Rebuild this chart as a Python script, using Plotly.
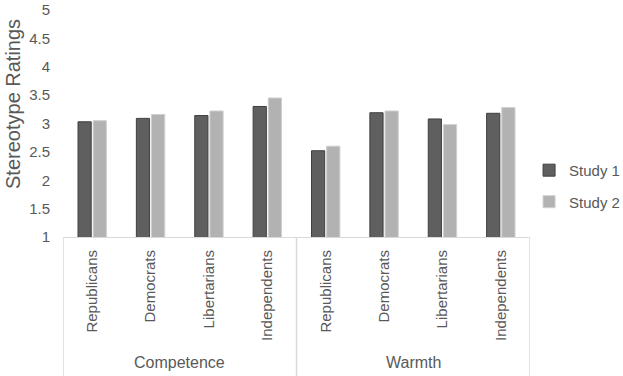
import plotly.graph_objects as go

categories = ["Republicans", "Democrats", "Libertarians", "Independents",
              "Republicans", "Democrats", "Libertarians", "Independents"]
groups = ["Competence", "Warmth"]
study1 = [3.03, 3.09, 3.14, 3.30, 2.52, 3.19, 3.08, 3.18]
study2 = [3.05, 3.16, 3.22, 3.45, 2.60, 3.22, 2.98, 3.28]
yticks = [1, 1.5, 2, 2.5, 3, 3.5, 4, 4.5, 5]
yticktext = ["1", "1.5", "2", "2.5", "3", "3.5", "4", "4.5", "5"]

FONT = "Liberation Sans"
TXT = "#595959"
xpos = list(range(len(categories)))

fig = go.Figure()
fig.add_trace(go.Bar(x=xpos, y=study1, base=0, name="Study 1", legendgroup="s1",
                     marker=dict(color="#5f5f5f", line=dict(color="#3f3f3f", width=1))))
fig.add_trace(go.Bar(x=xpos, y=study2, base=0, name="Study 2", legendgroup="s2",
                     marker=dict(color="#b2b2b2", line=dict(color="#cfcfcf", width=1))))

fig.update_layout(
    width=623, height=376,
    margin=dict(l=63, r=93, t=10, b=139, autoexpand=False),
    paper_bgcolor="white", plot_bgcolor="white",
    barmode="group", bargap=0.48, bargroupgap=0.13,
    font=dict(family=FONT, color=TXT, size=13),
    showlegend=True,
    legend=dict(x=0.998, y=0.225, yanchor="middle", xanchor="left",
                font=dict(size=15, color=TXT, family=FONT),
                tracegroupgap=9, itemwidth=30),
    xaxis=dict(range=[-0.5, 7.5], tickmode="array", tickvals=xpos, ticktext=categories,
               tickangle=-90, showgrid=False, showline=True, linecolor="#d9d9d9",
               linewidth=1, ticks="", tickfont=dict(size=15, color=TXT), zeroline=False,
               ticklabelstandoff=6, automargin=False),
    yaxis=dict(range=[1, 5], tickmode="array", tickvals=yticks, ticktext=yticktext,
               showgrid=False, showline=False, zeroline=False, ticks="",
               tickfont=dict(size=15, color=TXT), ticklabelstandoff=12,
               automargin=False),
)

fig.add_annotation(x=0.0, xshift=-50, y=0.586, xref="paper", yref="paper",
                   xanchor="center", yanchor="middle",
                   text="Stereotype Ratings", textangle=-90, showarrow=False,
                   font=dict(size=20, color=TXT, family=FONT))

# group dividers below axis
for xv in [-0.5, 3.5, 7.5]:
    fig.add_shape(type="line", xref="x", yref="paper", x0=xv, x1=xv, y0=0, y1=-0.62,
                  line=dict(color="#d9d9d9", width=1.5))
for i, g in enumerate(groups):
    fig.add_annotation(x=1.5 + 4 * i, y=-0.551, xref="x", yref="paper", text=g,
                       showarrow=False, font=dict(size=16, color=TXT, family=FONT),
                       yanchor="middle")

fig.write_html("out.html", config={"displayModeBar": False},
               post_script="document.body.style.margin='0';")
